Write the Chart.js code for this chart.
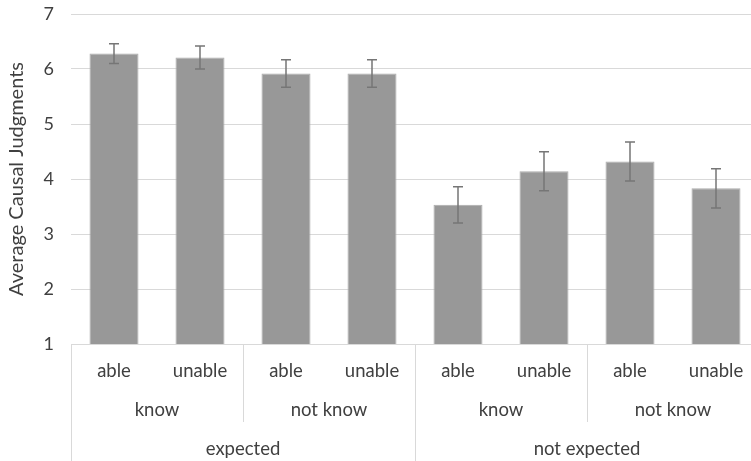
<!DOCTYPE html>
<html>
<head>
<meta charset="utf-8">
<script src="https://cdn.jsdelivr.net/npm/chart.js@4"></script>
<style>
  html, body { margin: 0; padding: 0; background: #fff; overflow: hidden; }
  #wrap { width: 760px; height: 461px; }
</style>
</head>
<body>
<div id="wrap"><canvas id="c" width="760" height="461"></canvas></div>
<script>
// Condition labels, innermost level first
const ability = ['able', 'unable', 'able', 'unable', 'able', 'unable', 'able', 'unable'];
const knowledge = ['know', 'know', 'not know', 'not know', 'know', 'know', 'not know', 'not know'];
const expectation = ['expected', 'expected', 'expected', 'expected', 'not expected', 'not expected', 'not expected', 'not expected'];

// Mean causal judgments and standard errors per condition
const means = [6.28, 6.21, 5.92, 5.92, 3.53, 4.14, 4.32, 3.83];
const errors = [0.18, 0.21, 0.25, 0.25, 0.33, 0.355, 0.355, 0.355];

const yTicks = [1, 2, 3, 4, 5, 6, 7];

const FONT = 'Lato, "Open Sans", sans-serif';
const LINE = '#d9d9d9';
const TEXT = '#404040';

// Collapse a label list into runs of equal neighbours: [{label, from, to}]
function runs(list) {
  const out = [];
  list.forEach((lab, i) => {
    const last = out[out.length - 1];
    if (last && last.label === lab) last.to = i;
    else out.push({ label: lab, from: i, to: i });
  });
  return out;
}

const errorBars = {
  id: 'errorBars',
  afterDatasetsDraw(chart) {
    const { ctx, scales: { x, y } } = chart;
    ctx.save();
    ctx.strokeStyle = '#767676';
    ctx.lineWidth = 1.5;
    means.forEach((m, i) => {
      const cx = x.getPixelForValue(i);
      const top = y.getPixelForValue(m + errors[i]);
      const bot = y.getPixelForValue(m - errors[i]);
      ctx.beginPath();
      ctx.moveTo(cx, top); ctx.lineTo(cx, bot);
      ctx.moveTo(cx - 5, top); ctx.lineTo(cx + 5, top);
      ctx.moveTo(cx - 5, bot); ctx.lineTo(cx + 5, bot);
      ctx.stroke();
    });
    ctx.restore();
  }
};

const groupAxis = {
  id: 'groupAxis',
  afterDraw(chart) {
    const { ctx, scales: { x, y } } = chart;
    const half = (x.getPixelForValue(1) - x.getPixelForValue(0)) / 2;
    const base = y.getPixelForValue(1);
    const H = chart.height;
    const rows = [
      { list: ability, baseline: base + 33, lineEnd: null },
      { list: knowledge, baseline: base + 72, lineEnd: base + 78 },
      { list: expectation, baseline: base + 111, lineEnd: H }
    ];
    ctx.save();
    ctx.strokeStyle = LINE;
    ctx.lineWidth = 1;
    // axis line
    ctx.beginPath();
    ctx.moveTo(x.left, base + 0.5);
    ctx.lineTo(x.right, base + 0.5);
    ctx.stroke();
    ctx.fillStyle = TEXT;
    ctx.font = '18.5px ' + FONT;
    ctx.textAlign = 'center';
    ctx.textBaseline = 'alphabetic';
    rows.forEach(row => {
      runs(row.list).forEach(r => {
        const a = x.getPixelForValue(r.from) - half;
        const b = x.getPixelForValue(r.to) + half;
        ctx.fillText(r.label, (a + b) / 2, row.baseline);
        if (row.lineEnd !== null) {
          [a, b].forEach(px => {
            const xx = Math.round(px) + 0.5;
            ctx.beginPath();
            ctx.moveTo(xx, base);
            ctx.lineTo(xx, row.lineEnd);
            ctx.stroke();
          });
        }
      });
    });
    ctx.restore();
  }
};

new Chart(document.getElementById('c'), {
  type: 'bar',
  data: {
    labels: ability,
    datasets: [{
      data: means,
      backgroundColor: '#989898',
      borderColor: '#acacac',
      borderWidth: 1,
      categoryPercentage: 1,
      barPercentage: 0.57
    }]
  },
  options: {
    responsive: false,
    devicePixelRatio: 1,
    animation: false,
    layout: { padding: { top: 14, right: 1, bottom: 0, left: 0 } },
    plugins: { legend: { display: false }, tooltip: { enabled: false } },
    scales: {
      x: {
        grid: { display: false },
        border: { display: false },
        ticks: { display: false },
        afterFit(s) { s.height = 117; s.paddingLeft = 0; s.paddingRight = 0; }
      },
      y: {
        min: 1,
        max: 7,
        afterBuildTicks(s) { s.ticks = yTicks.map(v => ({ value: v })); },
        grid: { color: LINE, lineWidth: 1, drawTicks: false },
        border: { display: false },
        ticks: {
          padding: 17,
          color: TEXT,
          font: { family: FONT, size: 18 }
        },
        title: {
          display: true,
          text: 'Average Causal Judgments',
          color: TEXT,
          font: { family: FONT, size: 20 },
          padding: { top: 5, bottom: 0 }
        },
        afterFit(s) { s.width = 71; s.paddingTop = 0; s.paddingBottom = 0; }
      }
    }
  },
  plugins: [errorBars, groupAxis]
});
</script>
</body>
</html>
